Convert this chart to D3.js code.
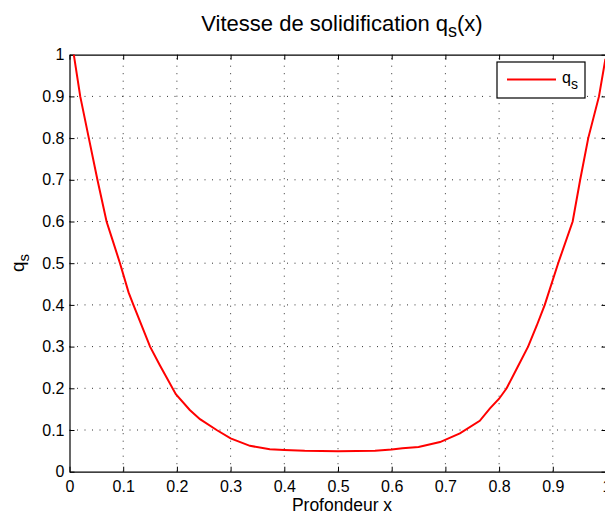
<!DOCTYPE html>
<html><head><meta charset="utf-8">
<script src="https://cdn.jsdelivr.net/npm/d3@7"></script>
<style>body{margin:0;background:#fff}svg{display:block;font-family:"Liberation Sans",Arial,sans-serif}</style>
</head><body>
<svg id="c" width="605" height="515"></svg>
<script>
const xValues = [0.008,0.02,0.036,0.052,0.069,0.079,0.094,0.11,0.119,0.15,0.168,0.198,0.224,0.243,0.274,0.30,0.336,0.373,0.40,0.438,0.5,0.569,0.6,0.62,0.65,0.69,0.727,0.764,0.783,0.80,0.814,0.834,0.854,0.87,0.885,0.91,0.937,0.951,0.966,0.986,0.998];
const qsValues = [1.0,0.9,0.8,0.7,0.6,0.56,0.5,0.43,0.4,0.3,0.256,0.186,0.148,0.126,0.1,0.080,0.062,0.054,0.052,0.050,0.049,0.050,0.053,0.056,0.059,0.071,0.092,0.122,0.152,0.175,0.2,0.25,0.3,0.35,0.4,0.5,0.6,0.7,0.8,0.9,0.99];
const xTicks = [0,0.1,0.2,0.3,0.4,0.5,0.6,0.7,0.8,0.9,1];
const yTicks = [0,0.1,0.2,0.3,0.4,0.5,0.6,0.7,0.8,0.9,1];

const svg = d3.select("#c");
const L = 69.5, R = 606.5, T = 54.7, B = 471.7;
const x = d3.scaleLinear().domain([0,1]).range([L,R]);
const y = d3.scaleLinear().domain([0,1]).range([B,T]);

// grid
const g = svg.append("g");
g.selectAll(".vg").data(xTicks.slice(1,-1)).join("line")
  .attr("x1",d=>x(d)).attr("x2",d=>x(d)).attr("y1",B).attr("y2",T)
  .attr("stroke","#333").attr("stroke-width",1).attr("stroke-dasharray","1,6.5");
g.selectAll(".hg").data(yTicks.slice(1,-1)).join("line")
  .attr("y1",d=>y(d)).attr("y2",d=>y(d)).attr("x1",L).attr("x2",R)
  .attr("stroke","#333").attr("stroke-width",1).attr("stroke-dasharray","1,6.5");

// axes (inner ticks)
const fmt = d => d===0?"0":d===1?"1":d3.format(".1f")(d);
svg.append("g").attr("transform",`translate(0,${B})`)
  .call(d3.axisBottom(x).tickValues(xTicks).tickFormat(fmt).tickSizeInner(-5).tickSizeOuter(0).tickPadding(8.5));
svg.append("g").attr("transform",`translate(${L},0)`)
  .call(d3.axisLeft(y).tickValues(yTicks).tickFormat(fmt).tickSizeInner(-5).tickSizeOuter(0).tickPadding(5));
svg.append("g").attr("transform",`translate(0,${T})`)
  .call(d3.axisTop(x).tickValues(xTicks).tickFormat("").tickSizeInner(-5).tickSizeOuter(0));
svg.append("g").attr("transform",`translate(${R},0)`)
  .call(d3.axisRight(y).tickValues(yTicks).tickFormat("").tickSizeInner(-5).tickSizeOuter(0));
svg.selectAll(".domain").attr("stroke","#000").attr("stroke-width",1.2);
svg.selectAll(".tick line").attr("stroke","#000");
svg.selectAll(".tick text").attr("font-size",16).attr("fill","#000").attr("font-family","Liberation Sans, Arial, sans-serif");

// curve
svg.append("path").datum(xValues.map((v,i)=>[v,qsValues[i]]))
  .attr("d",d3.line().x(d=>x(d[0])).y(d=>y(d[1])))
  .attr("fill","none").attr("stroke","#ff0000").attr("stroke-width",2);

// title
const t = svg.append("text").attr("x",342).attr("y",31).attr("text-anchor","middle").attr("font-size",22);
t.append("tspan").text("Vitesse de solidification q");
t.append("tspan").attr("font-size",18).attr("dy",6).text("s");
t.append("tspan").attr("dy",-6).text("(x)");

// x label
svg.append("text").attr("x",342).attr("y",511.2).attr("text-anchor","middle").attr("font-size",17.5).text("Profondeur x");

// y label
const yl = svg.append("text").attr("transform","translate(24,263) rotate(-90)").attr("text-anchor","middle").attr("font-size",19);
yl.append("tspan").text("q");
yl.append("tspan").attr("font-size",15).attr("dy",5).text("s");

// legend
const lg = svg.append("g");
lg.append("rect").attr("x",497).attr("y",62).attr("width",88).attr("height",36).attr("fill","#fff").attr("stroke","#000").attr("stroke-width",1.2);
lg.append("line").attr("x1",507).attr("x2",556).attr("y1",79.5).attr("y2",79.5).attr("stroke","#ff0000").attr("stroke-width",2);
const lt = lg.append("text").attr("x",562).attr("y",83).attr("font-size",16);
lt.append("tspan").text("q");
lt.append("tspan").attr("font-size",14).attr("dy",6).text("s");
</script>
</body></html>
